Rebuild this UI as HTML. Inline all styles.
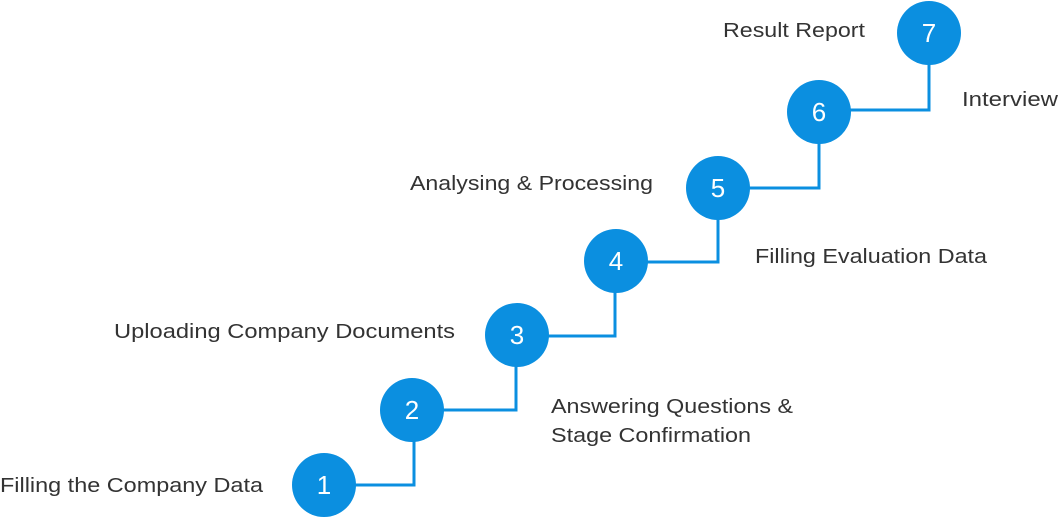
<!DOCTYPE html>
<html><head><style>
html,body{margin:0;padding:0;background:#fff;}
body{width:1059px;height:517px;overflow:hidden;}
svg text{font-family:"Liberation Sans",sans-serif;}
</style></head><body>
<svg width="1059" height="517" viewBox="0 0 1059 517">
<g fill="none" stroke="#0b8fe0" stroke-width="3">
<polyline points="350,485 414,485 414,430"/>
<polyline points="440,410 516,410 516,355"/>
<polyline points="545,336 615,336 615,280"/>
<polyline points="645,262 718,262 718,208"/>
<polyline points="745,188 819,188 819,132"/>
<polyline points="845,110 929,110 929,55"/>
</g>
<g fill="#0b8fe0">
<circle cx="324" cy="485" r="32"/>
<circle cx="412" cy="410" r="32"/>
<circle cx="517" cy="335" r="32"/>
<circle cx="616" cy="261" r="32"/>
<circle cx="718" cy="188" r="32"/>
<circle cx="819" cy="112" r="32"/>
<circle cx="929" cy="33" r="32"/>
</g>
<g fill="#fff" font-size="26" text-anchor="middle">
<text x="324" y="494">1</text>
<text x="412" y="419">2</text>
<text x="517" y="344">3</text>
<text x="616" y="270">4</text>
<text x="718" y="197">5</text>
<text x="819" y="121">6</text>
<text x="929" y="42">7</text>
</g>
<g fill="#333" font-size="20">
<text x="0" y="492" textLength="263" lengthAdjust="spacingAndGlyphs">Filling the Company Data</text>
<text x="551" y="413" textLength="242" lengthAdjust="spacingAndGlyphs">Answering Questions &amp;</text>
<text x="551" y="442" textLength="200" lengthAdjust="spacingAndGlyphs">Stage Confirmation</text>
<text x="114" y="338" textLength="341" lengthAdjust="spacingAndGlyphs">Uploading Company Documents</text>
<text x="755" y="263" textLength="232" lengthAdjust="spacingAndGlyphs">Filling Evaluation Data</text>
<text x="410" y="190" textLength="243" lengthAdjust="spacingAndGlyphs">Analysing &amp; Processing</text>
<text x="962" y="106" textLength="96" lengthAdjust="spacingAndGlyphs">Interview</text>
<text x="723" y="37" textLength="142" lengthAdjust="spacingAndGlyphs">Result Report</text>
</g>
</svg>
</body></html>
